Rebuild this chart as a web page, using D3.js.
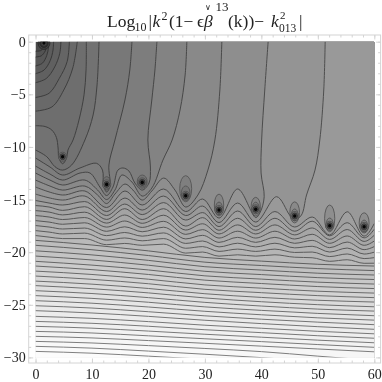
<!DOCTYPE html>
<html>
<head>
<meta charset="utf-8">
<script src="https://cdnjs.cloudflare.com/ajax/libs/d3/7.8.5/d3.min.js"></script>
<style>
  html, body { margin: 0; padding: 0; background: #fff; }
  svg { display: block; filter: blur(0.4px); }
  text { font-family: "Liberation Serif", serif; fill: #222; }
</style>
</head>
<body>
<div id="chart"></div>
<script>
// tick labels
const kTicks = [0, 10, 20, 30, 40, 50, 60];
const kMinor = d3.range(0, 61, 2);
const yTicks = [0, -5, -10, -15, -20, -25, -30];
const yMinor = d3.range(-30, 1, 1);

// zeros of the function (dark dots)
const wellK = [1.5, 4.8, 12.6, 18.9, 26.6, 32.5, 39, 45.9, 52.1, 58.2];
const wellY = [-0.13, -10.93, -13.56, -13.37, -14.64, -16, -15.93, -16.57, -17.49, -17.59];

// rings around the first zero
const poleRk = [1.05, 0.72];
const poleRy = [0.6, 0.42];

// closed contours sitting on the wells, read one by one
const loopK  = [12.6, 18.9, 26.6, 26.6, 32.5, 32.5, 39, 39, 45.9, 45.9, 52.1, 52.1, 58.2, 58.2];
const loopY  = [-13.46, -13.3, -13.97, -14.33, -15.52, -15.81, -15.68, -15.8, -16.22, -16.47, -16.79, -17.33, -17.22, -17.52];
const loopRk = [0.7, 0.88, 1.06, 0.75, 0.83, 0.6, 0.82, 0.6, 0.85, 0.6, 0.9, 0.62, 0.88, 0.62];
const loopRy = [0.64, 0.63, 1.24, 0.62, 1.03, 0.57, 0.89, 0.55, 1.0, 0.57, 1.27, 0.57, 0.96, 0.57];

// contours around the first zero, left edge to top edge, [k, y]
const arcLines = [
  [[0,-0.9],[0.9,-0.85],[1.55,-0.5],[1.8,0]],
  [[0,-1.45],[1,-1.35],[1.7,-0.9],[2.05,-0.3],[2.1,0]],
  [[0,-2.3],[1.2,-2.05],[2,-1.3],[2.3,-0.5],[2.3,0]],
  [[0,-3.04],[1.5,-2.7],[2.6,-1.8],[3.1,-0.8],[3.2,0]],
  [[0,-3.9],[1.9,-3.5],[3.4,-2.4],[4.3,-1.1],[4.5,0]],
  [[0,-5.3],[2.4,-4.9],[4.2,-3.5],[5.6,-1.9],[6,0]],
  [[0,-6.6],[2.9,-6.2],[5,-4.6],[6.6,-2.5],[7.4,0]]
];

// contours that come down from the top edge and run under the wells
const topLines = [
  [[0,-7.98],[1.7,-8.06],[2.9,-8.4],[3.7,-9.1],[4,-10.1],[4.15,-11.05],[4.8,-11.6],[5.5,-11.05],[5.75,-10.3],[6.65,-9.34],[7.7,-7.44],[8.6,-5.05],[8.95,-2.7],[9,0]],
  [[0,-10.29],[2,-10.93],[3.45,-11.88],[4.8,-12.2],[6.4,-11.72],[8.75,-9.34],[10.2,-6.97],[10.9,-4.11],[11.25,0]],
  [[0,-11.05],[2.57,-11.91],[4.8,-12.67],[7.88,-12],[10.83,-11.56],[11.86,-12.2],[12.04,-13.62],[12.6,-14.29],[13.2,-13.72],[13,-11.72],[14.07,-9.34],[15.84,-5.54],[16.7,-2.69],[17.08,0]],
  [[0,-11.82],[2.57,-12.58],[4.8,-13.15],[7.88,-12.48],[9.65,-12.48],[11.4,-13.81],[12.6,-14.62],[13.72,-13.81],[14.6,-12.2],[15.5,-12],[16.55,-12.29],[17.6,-13.43],[18.9,-14.1],[20.1,-13.43],[20.35,-11.91],[19.9,-9.34],[20.6,-5.54],[21.15,-2.69],[21.5,0]],
  [[0,-12.48],[2.57,-13.15],[4.8,-13.62],[8.75,-13.15],[11,-14.1],[12.6,-15],[14.07,-14.1],[15.3,-12.67],[17.08,-13.34],[18.9,-14.67],[20.6,-13.91],[22.57,-11.25],[24.2,-9.34],[25.6,-6.49],[26.5,-3.16],[26.8,0]],
  [[0,-13.15],[2.57,-13.72],[4.8,-14.1],[8.75,-13.72],[11,-14.57],[12.6,-15.38],[14.07,-14.48],[15.84,-13.53],[17.26,-14.1],[18.9,-15.05],[20.6,-14.19],[22.7,-12.96],[24.7,-14.1],[26.6,-15.71],[28.76,-14.57],[30.53,-12.2],[31.77,-9.34],[32.65,-4.59],[33,0]],
  [[0,-13.81],[4.8,-14.57],[8.75,-14.19],[12.6,-15.76],[15.84,-14.19],[18.9,-15.52],[22.7,-14],[26.6,-16.14],[29.6,-14.95],[32.5,-16.76],[35.8,-14],[39,-16.71],[39.8,-16.2],[40.5,-14.73],[39.95,-12.48],[40.05,-9.34],[40.6,-4.59],[41.2,0]],
  [[0,-14.48],[4.8,-15.05],[8.75,-14.67],[12.6,-16.14],[15.84,-14.86],[18.9,-16],[22.7,-14.67],[26.6,-16.52],[29.6,-15.62],[32.5,-17.19],[35.8,-15.33],[39,-17.14],[42.7,-14.73],[45,-16.47],[45.9,-16.95],[47.1,-16.47],[48,-14.57],[49.5,-12.2],[50.35,-9.34],[51.05,-4.59],[51.3,0]]
];

// wavy contours, y read at these k stops
const waveK = [0, 2.4, 4.8, 8.7, 12.6, 15.8, 18.9, 22.7, 26.6, 29.6, 32.5, 35.8, 39, 42.4, 45.9, 49, 52.1, 55.2, 58.2, 60];
const waveLines = [
  [-15.09,-15.33,-15.52,-15.19,-16.52,-15.43,-16.43,-15.29,-16.95,-16.24,-17.57,-16.09,-17.57,-16.14,-17.61,-16.66,-18.37,-16.16,-18.47,-17.28],
  [-15.57,-15.71,-16.03,-15.68,-16.89,-15.87,-16.9,-15.87,-17.52,-16.72,-17.92,-16.78,-17.92,-16.78,-18.01,-17.06,-18.45,-17.2,-18.64,-17.82],
  [-16.05,-16.19,-16.46,-16.2,-17.24,-16.47,-17.26,-16.49,-17.9,-17.3,-18.27,-17.41,-18.27,-17.41,-18.36,-17.7,-18.79,-17.85,-18.98,-18.39],
  [-16.52,-16.66,-16.9,-16.71,-17.62,-17.04,-17.65,-17.07,-18.31,-17.86,-18.66,-18.01,-18.66,-18.01,-18.75,-18.3,-19.16,-18.46,-19.35,-18.94],
  [-17,-17.14,-17.35,-17.21,-18.02,-17.59,-18.06,-17.63,-18.74,-18.4,-19.07,-18.59,-19.07,-18.59,-19.16,-18.88,-19.57,-19.04,-19.76,-19.47],
  [-17.47,-17.61,-17.8,-17.71,-18.43,-18.13,-18.48,-18.17,-19.17,-18.94,-19.5,-19.15,-19.5,-19.15,-19.59,-19.44,-19.99,-19.61,-20.18,-20],
  [-17.95,-18.09,-18.27,-18.19,-18.86,-18.65,-18.92,-18.71,-19.63,-19.47,-19.93,-19.71,-19.93,-19.71,-20.03,-19.99,-20.42,-20.17,-20.61,-20.52],
  [-18.42,-18.57,-18.71,-18.71,-19.29,-19.17,-19.35,-19.24,-20.09,-19.99,-20.38,-20.25,-20.38,-20.25,-20.48,-20.53,-20.87,-20.72,-21.06,-21.05]
];

// nearly straight contours at the bottom, y read at these k stops
const flatK = [0, 10, 20, 30, 40, 50, 60];
const flatLines = [
  [-18.88,-19.32,-19.88,-20.5,-20.85,-21.15,-21.32],
  [-19.35,-19.77,-20.32,-20.95,-21.27,-21.56,-21.75],
  [-19.87,-20.26,-20.78,-21.38,-21.7,-22,-22.17],
  [-20.37,-20.74,-21.24,-21.82,-22.13,-22.42,-22.6],
  [-20.87,-21.23,-21.69,-22.25,-22.56,-22.85,-23.03],
  [-21.32,-21.66,-22.12,-22.66,-22.98,-23.27,-23.46],
  [-21.8,-22.12,-22.57,-23.11,-23.42,-23.71,-23.89],
  [-22.27,-22.58,-23,-23.53,-23.85,-24.13,-24.32],
  [-22.75,-23.04,-23.45,-23.95,-24.3,-24.57,-24.74],
  [-23.18,-23.47,-23.87,-24.35,-24.71,-24.99,-25.19],
  [-23.66,-23.93,-24.32,-24.77,-25.12,-25.41,-25.6],
  [-24.13,-24.39,-24.76,-25.2,-25.53,-25.82,-26.04],
  [-24.61,-24.85,-25.21,-25.62,-25.95,-26.24,-26.46],
  [-25.09,-25.31,-25.66,-26.05,-26.37,-26.65,-26.89],
  [-25.56,-25.78,-26.1,-26.47,-26.79,-27.08,-27.33],
  [-26.1,-26.29,-26.6,-26.94,-27.23,-27.52,-27.76],
  [-26.58,-26.76,-27.04,-27.37,-27.65,-27.94,-28.18],
  [-27.05,-27.22,-27.5,-27.8,-28.08,-28.36,-28.61],
  [-27.53,-27.68,-27.95,-28.23,-28.5,-28.78,-29.04],
  [-28,-28.15,-28.4,-28.66,-28.93,-29.2,-29.47],
  [-28.48,-28.63,-28.88,-29.15,-29.45,-29.88,-30.3],
  [-28.95,-29.12,-29.4,-29.7,-30.02,-30.4,-30.8],
  [-29.43,-29.6,-29.88,-30.18,-30.5,-30.8,-31]
];

const width = 382, height = 382;
const x = d3.scaleLinear().domain([0, 60]).range([35.5, 374.3]);
const y = d3.scaleLinear().domain([0, -30]).range([41.7, 357.4]);
const frame = { left: 28.7, right: 380.6, top: 35, bottom: 363 };

const svg = d3.select("#chart").append("svg")
  .attr("width", width)
  .attr("height", height);

svg.append("clipPath").attr("id", "plot")
  .append("rect")
  .attr("x", x(0)).attr("y", y(0))
  .attr("width", x(60) - x(0)).attr("height", y(-30) - y(0));

// every contour as a list of [k, y], darkest level first
const contours = []
  .concat(arcLines.map(function (p) { return { points: p, curve: d3.curveCatmullRom }; }))
  .concat(topLines.map(function (p) { return { points: p, curve: d3.curveCatmullRom }; }))
  .concat(waveLines.map(function (r) {
    return { points: r.map(function (v, i) { return [waveK[i], v]; }), curve: d3.curveMonotoneX };
  }))
  .concat(flatLines.map(function (r) {
    return { points: r.map(function (v, i) { return [flatK[i], v]; }), curve: d3.curveMonotoneX };
  }));

const gray = d3.scaleLinear()
  .domain([0, 7, 15, 34, contours.length - 1])
  .range(["#535353", "#727272", "#9f9f9f", "#e6e6e6", "#fcfcfc"]);

const lineGray = d3.scaleLinear()
  .domain([0, 15, 30, contours.length - 1])
  .range(["#333333", "#505050", "#6c6c6c", "#808080"]);

const plot = svg.append("g").attr("clip-path", "url(#plot)");

plot.append("rect")
  .attr("x", x(0)).attr("y", y(0))
  .attr("width", x(60) - x(0)).attr("height", y(-30) - y(0))
  .attr("fill", "#4a4a4a");

function lineOf(d) {
  return d3.line()
    .x(function (p) { return x(p[0]); })
    .y(function (p) { return y(p[1]); })
    .curve(d.curve)(d.points);
}

// the higher side of a contour is always to the right and below
function bandOf(d) {
  let last = d.points[d.points.length - 1];
  let path = lineOf(d);
  if (last[1] === 0) path += "L" + x(60) + "," + y(0);
  path += "L" + x(60) + "," + y(-31) + "L" + x(0) + "," + y(-31) + "Z";
  return path;
}

plot.append("g").selectAll("path")
  .data(contours)
  .join("path")
  .attr("d", bandOf)
  .attr("fill", function (d, i) { return gray(i); });

plot.append("g").selectAll("path")
  .data(contours)
  .join("path")
  .attr("d", lineOf)
  .attr("fill", "none")
  .attr("stroke", function (d, i) { return lineGray(i); })
  .attr("stroke-width", 1);

// loops on the wells
plot.append("g").selectAll("ellipse")
  .data(loopK)
  .join("ellipse")
  .attr("cx", function (d) { return x(d); })
  .attr("cy", function (d, i) { return y(loopY[i]); })
  .attr("rx", function (d, i) { return x(loopRk[i]) - x(0); })
  .attr("ry", function (d, i) { return y(-loopRy[i]) - y(0); })
  .attr("fill", "#000")
  .attr("fill-opacity", 0.07)
  .attr("stroke", "#555")
  .attr("stroke-width", 0.9);

plot.append("g").selectAll("ellipse")
  .data(poleRk)
  .join("ellipse")
  .attr("cx", x(wellK[0]))
  .attr("cy", y(wellY[0]))
  .attr("rx", function (d) { return x(d) - x(0); })
  .attr("ry", function (d, i) { return y(-poleRy[i]) - y(0); })
  .attr("fill", function (d, i) { return i ? "#2e2e2e" : "#414141"; })
  .attr("stroke", "#262626")
  .attr("stroke-width", 0.8);

const wellRings = [
  { rk: 0.74, ry: 0.43, fill: "#747474", stroke: "#4d4d4d" },
  { rk: 0.5, ry: 0.29, fill: "#484848", stroke: "#333" },
  { rk: 0.29, ry: 0.17, fill: "#050505", stroke: "none" }
];
wellRings.forEach(function (r, n) {
  plot.append("g").selectAll("ellipse")
    .data(n === 0 ? wellK.slice(1) : wellK)
    .join("ellipse")
    .attr("cx", function (d) { return x(d); })
    .attr("cy", function (d, i) { return y(n === 0 ? wellY[i + 1] : wellY[i]); })
    .attr("rx", x(r.rk) - x(0))
    .attr("ry", y(-r.ry) - y(0))
    .attr("fill", r.fill)
    .attr("stroke", r.stroke)
    .attr("stroke-width", 0.8);
});

// frame and ticks
const frameColor = "#d4d4d4";
const xFrame = d3.scaleLinear().domain([0, 60]).range([x(0), x(60)]);

function styleAxis(g) {
  g.select(".domain").remove();
  g.selectAll("line").attr("stroke", frameColor).attr("stroke-width", 1);
  g.selectAll("text").attr("font-size", 14).attr("fill", "#222")
    .attr("font-family", "'Liberation Serif', serif");
}

svg.append("rect")
  .attr("x", frame.left).attr("y", frame.top)
  .attr("width", frame.right - frame.left).attr("height", frame.bottom - frame.top)
  .attr("fill", "none").attr("stroke", frameColor).attr("stroke-width", 1);

const fmtY = function (d) { return d === 0 ? "0" : "\u2212" + Math.abs(d); };

svg.append("g").attr("transform", "translate(0," + frame.bottom + ")")
  .call(d3.axisBottom(xFrame).tickValues(kMinor).tickSize(-2.5).tickFormat("")).call(styleAxis);
svg.append("g").attr("transform", "translate(0," + frame.bottom + ")")
  .call(d3.axisBottom(xFrame).tickValues(kTicks).tickSize(-4.5).tickPadding(6).tickFormat(d3.format("d"))).call(styleAxis);
svg.append("g").attr("transform", "translate(0," + frame.top + ")")
  .call(d3.axisTop(xFrame).tickValues(kMinor).tickSize(-2.5).tickFormat("")).call(styleAxis);
svg.append("g").attr("transform", "translate(0," + frame.top + ")")
  .call(d3.axisTop(xFrame).tickValues(kTicks).tickSize(-4.5).tickFormat("")).call(styleAxis);
svg.append("g").attr("transform", "translate(" + frame.left + ",0)")
  .call(d3.axisLeft(y).tickValues(yMinor).tickSize(-2.5).tickFormat("")).call(styleAxis);
svg.append("g").attr("transform", "translate(" + frame.left + ",0)")
  .call(d3.axisLeft(y).tickValues(yTicks).tickSize(-4.5).tickPadding(3).tickFormat(fmtY)).call(styleAxis);
svg.append("g").attr("transform", "translate(" + frame.right + ",0)")
  .call(d3.axisRight(y).tickValues(yMinor).tickSize(-2.5).tickFormat("")).call(styleAxis);
svg.append("g").attr("transform", "translate(" + frame.right + ",0)")
  .call(d3.axisRight(y).tickValues(yTicks).tickSize(-4.5).tickFormat("")).call(styleAxis);

// title, set piece by piece because of the stacked sub and superscripts
const titleParts = [
  { t: "Log", x: 107, y: 27, s: 17.5 },
  { t: "10", x: 134.5, y: 31, s: 12 },
  { t: "|", x: 148.5, y: 27, s: 17.5 },
  { t: "k", x: 152.5, y: 27, s: 17.5, i: 1 },
  { t: "2", x: 161.5, y: 20, s: 12 },
  { t: "(1\u2212", x: 169, y: 27, s: 17.5 },
  { t: "\u03F5", x: 197, y: 27, s: 17.5 },
  { t: "\u03B2", x: 204, y: 27, s: 17.5, i: 1 },
  { t: "\u2228", x: 205, y: 10, s: 8 },
  { t: "13", x: 215.5, y: 10.5, s: 13 },
  { t: "(k))\u2212", x: 228, y: 27, s: 17.5 },
  { t: "k", x: 271, y: 27, s: 17.5, i: 1 },
  { t: "2", x: 280, y: 18.5, s: 11 },
  { t: "013", x: 279, y: 32, s: 11.5 },
  { t: "|", x: 299, y: 27, s: 17.5 }
];
svg.append("g").selectAll("text")
  .data(titleParts)
  .join("text")
  .attr("x", function (d) { return d.x; })
  .attr("y", function (d) { return d.y; })
  .attr("font-size", function (d) { return d.s; })
  .attr("font-style", function (d) { return d.i ? "italic" : "normal"; })
  .text(function (d) { return d.t; });
</script>
</body>
</html>
